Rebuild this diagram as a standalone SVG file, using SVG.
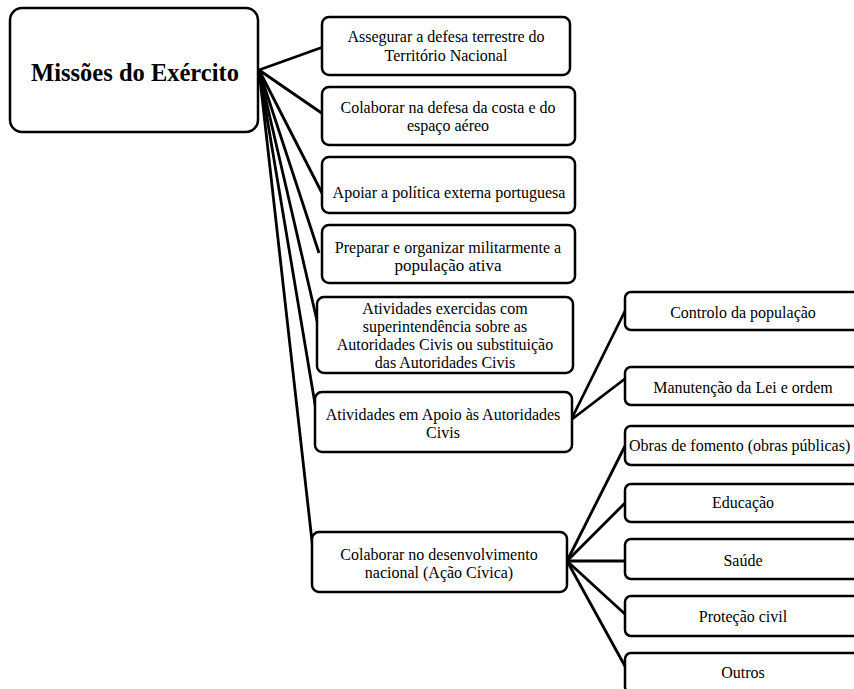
<svg xmlns="http://www.w3.org/2000/svg" width="854" height="689" viewBox="0 0 854 689">
<style>
.box{fill:#fff;stroke:#000;stroke-width:2.5}
text{font-family:'Liberation Serif','Times New Roman',Times,serif;fill:#000;text-anchor:middle;dominant-baseline:central}
.t{font-size:16px}
.main{font-size:24.5px;font-weight:bold}
.c{stroke:#000;stroke-width:2.8;fill:none}
</style>
<rect width="854" height="689" fill="#fff"/>
<g id="connectors">
<line class="c" x1="259" y1="70" x2="323" y2="47"/>
<line class="c" x1="259" y1="70" x2="323" y2="114"/>
<line class="c" x1="259" y1="70" x2="323" y2="195"/>
<line class="c" x1="259" y1="70" x2="319" y2="253"/>
<line class="c" x1="259" y1="70" x2="318" y2="325"/>
<line class="c" x1="259" y1="70" x2="316" y2="410"/>
<line class="c" x1="259" y1="70" x2="313" y2="550"/>
<line class="c" x1="571" y1="420" x2="626" y2="309"/>
<line class="c" x1="571" y1="420" x2="626" y2="378"/>
<line class="c" x1="567" y1="561" x2="626" y2="444"/>
<line class="c" x1="567" y1="561" x2="626" y2="502"/>
<line class="c" x1="567" y1="561" x2="626" y2="561"/>
<line class="c" x1="567" y1="561" x2="626" y2="615"/>
<line class="c" x1="567" y1="561" x2="626" y2="668"/>
</g>
<g id="main"><rect class="box" x="10" y="8" width="248" height="124" rx="12"/><text class="main" x="135" y="72">Missões do Exército</text></g>
<g id="n1"><rect class="box" x="322" y="17" width="248" height="58" rx="7"/><text class="t" x="446" y="36">Assegurar a defesa terrestre do</text><text class="t" x="446" y="55">Território  Nacional</text></g>
<g id="n2"><rect class="box" x="322" y="87" width="253" height="58" rx="7"/><text class="t" x="448" y="107">Colaborar na defesa da costa e do</text><text class="t" x="448" y="125">espaço aéreo</text></g>
<g id="n3"><rect class="box" x="322" y="157" width="253" height="56" rx="7"/><text class="t" x="449" y="192">Apoiar a política externa portuguesa</text></g>
<g id="n4"><rect class="box" x="322" y="225" width="253" height="58" rx="7"/><text class="t" x="448" y="247">Preparar e organizar militarmente a</text><text class="t" x="448" y="265" style="font-size:17px">população ativa</text></g>
<g id="n5"><rect class="box" x="317" y="297" width="256" height="76" rx="7"/><text class="t" x="445" y="308">Atividades exercidas com</text><text class="t" x="445" y="326">superintendência sobre as</text><text class="t" x="445" y="344">Autoridades Civis ou substituição</text><text class="t" x="445" y="362">das Autoridades Civis</text></g>
<g id="n6"><rect class="box" x="315" y="392" width="257" height="60" rx="7"/><text class="t" x="443" y="414">Atividades em Apoio às Autoridades</text><text class="t" x="443" y="432">Civis</text></g>
<g id="n7"><rect class="box" x="312" y="532" width="255" height="60" rx="7"/><text class="t" x="439" y="554">Colaborar no desenvolvimento</text><text class="t" x="439" y="572">nacional (Ação Cívica)</text></g>
<g id="n8"><rect class="box" x="625" y="292" width="236" height="38" rx="6"/><text class="t" x="743" y="312">Controlo da população</text></g>
<g id="n9"><rect class="box" x="625" y="367" width="236" height="38" rx="6"/><text class="t" x="743" y="387">Manutenção da Lei e ordem</text></g>
<g id="n10"><rect class="box" x="625" y="426" width="236" height="39" rx="6"/><text class="t" x="629" y="445" style="text-anchor:start">Obras de fomento (obras públicas)</text></g>
<g id="n11"><rect class="box" x="625" y="484" width="236" height="38" rx="6"/><text class="t" x="743" y="502">Educação</text></g>
<g id="n12"><rect class="box" x="625" y="539" width="236" height="40" rx="6"/><text class="t" x="743" y="560">Saúde</text></g>
<g id="n13"><rect class="box" x="625" y="596" width="236" height="40" rx="6"/><text class="t" x="743" y="616">Proteção civil</text></g>
<g id="n14"><rect class="box" x="625" y="653" width="236" height="40" rx="6"/><text class="t" x="743" y="672">Outros</text></g>
</svg>
